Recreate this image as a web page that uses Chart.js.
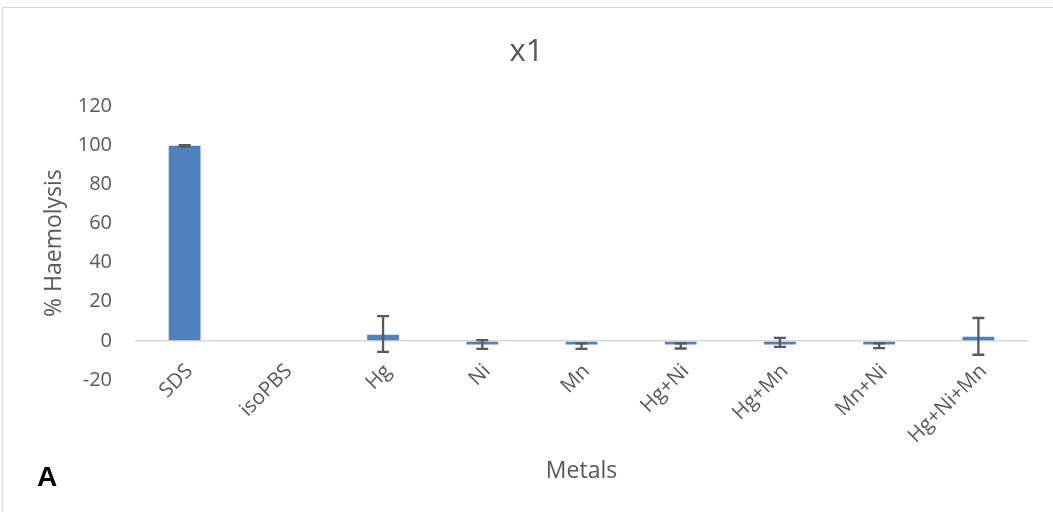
<!DOCTYPE html>
<html>
<head>
<meta charset="utf-8">
<script src="https://cdn.jsdelivr.net/npm/chart.js@4.4.0/dist/chart.umd.min.js"></script>
<style>
    html, body { margin: 0; padding: 0; background: #fff; }
    #wrap { position: relative; width: 1053px; height: 512px; overflow: hidden; }
    #frame { position: absolute; left: 2px; top: 7px; width: 1100px; height: 600px; border: 1px solid #d9d9d9; box-sizing: border-box; }
    #panel { position: absolute; left: 37px; top: 463px; font: bold 28px "Liberation Sans", Arial, sans-serif; line-height: 28px; color: #000; }
    canvas { position: absolute; left: 0; top: 0; }
</style>
</head>
<body>
<div id="wrap">
    <div id="frame"></div>
    <canvas id="haemoChart" width="1053" height="512"></canvas>
    <div id="panel">A</div>
</div>
<script>
// --- chart data ---
const metals = ['SDS', 'isoPBS', 'Hg', 'Ni', 'Mn', 'Hg+Ni', 'Hg+Mn', 'Mn+Ni', 'Hg+Ni+Mn'];
const haemolysis = [99.8, 0, 3.1, -1.8, -1.8, -1.8, -1.8, -1.8, 2.1];
const errUp = [0.3, 0, 9.6, 2.2, 0.5, 0.5, 3.3, 0.5, 9.6];
const errDown = [0.3, 0, 8.7, 2.3, 2.3, 2.1, 1.3, 1.9, 9.2];
const yTicks = [-20, 0, 20, 40, 60, 80, 100, 120];

const textGrey = '#595959';
const fontFamily = '"Open Sans", "Liberation Sans", sans-serif';

// simple error bar drawer on top of the bars
const errorBars = {
    id: 'errorBars',
    afterDatasetsDraw(chart) {
        const ctx = chart.ctx;
        const y = chart.scales.y;
        const meta = chart.getDatasetMeta(0);
        ctx.save();
        ctx.strokeStyle = '#595959';
        ctx.lineWidth = 2.3;
        meta.data.forEach((bar, i) => {
            if (!errUp[i] && !errDown[i]) return;
            const v = haemolysis[i];
            const top = y.getPixelForValue(v + errUp[i]);
            const bottom = y.getPixelForValue(v - errDown[i]);
            const x = bar.x;
            const cap = 6;
            ctx.beginPath();
            ctx.moveTo(x, top); ctx.lineTo(x, bottom);
            ctx.moveTo(x - cap, top); ctx.lineTo(x + cap, top);
            ctx.moveTo(x - cap, bottom); ctx.lineTo(x + cap, bottom);
            ctx.stroke();
        });
        ctx.restore();
    }
};

// category labels hang just under the zero line (like Excel), so draw them here
// instead of the x scale, which would clip them to its own box
const categoryLabels = {
    id: 'categoryLabels',
    afterDraw(chart) {
        const ctx = chart.ctx;
        const xs = chart.scales.x;
        const baseY = chart.scales.y.getPixelForValue(0) + 27;
        ctx.save();
        ctx.font = '20.5px ' + fontFamily;
        ctx.fillStyle = textGrey;
        ctx.textAlign = 'right';
        ctx.textBaseline = 'middle';
        metals.forEach((name, i) => {
            ctx.save();
            ctx.translate(xs.getPixelForTick(i) + 5, baseY);
            ctx.rotate(-Math.PI / 4);
            ctx.fillText(name, 0, 0);
            ctx.restore();
        });
        ctx.restore();
    }
};

new Chart(document.getElementById('haemoChart'), {
    type: 'bar',
    data: {
        labels: metals,
        datasets: [{
            label: 'x1',
            data: haemolysis,
            backgroundColor: '#4f81bd',
            borderWidth: 0,
            barPercentage: 0.32,
            categoryPercentage: 1
        }]
    },
    options: {
        responsive: false,
        animation: false,
        layout: { padding: 0 },
        plugins: {
            legend: { display: false },
            tooltip: { enabled: false },
            title: {
                display: true,
                text: 'x1',
                color: textGrey,
                font: { family: fontFamily, size: 31, weight: 'normal' },
                padding: { top: 34, bottom: 35 }
            }
        },
        scales: {
            x: {
                grid: { display: false, drawTicks: false },
                border: { display: false },
                ticks: { display: false },
                title: {
                    display: true,
                    text: 'Metals',
                    color: textGrey,
                    font: { family: fontFamily, size: 23 },
                    padding: { top: 27, bottom: 27 }
                },
                afterFit(scale) { scale.height = 132; }
            },
            y: {
                min: -20,
                max: 120,
                afterBuildTicks(scale) { scale.ticks = yTicks.map(v => ({ value: v })); },
                grid: {
                    drawTicks: false,
                    lineWidth: 1.5,
                    color: c => (c.tick && c.tick.value === 0) ? '#d9d9d9' : 'transparent'
                },
                border: { display: false },
                ticks: {
                    color: textGrey,
                    font: { family: fontFamily, size: 20 },
                    padding: 23
                },
                title: {
                    display: true,
                    text: '% Haemolysis',
                    color: textGrey,
                    font: { family: fontFamily, size: 23 },
                    padding: { top: 41, bottom: 0 }
                },
                afterFit(scale) { scale.width = 135; }
            },
            // empty spacer on the right so the plot ends where the reference does
            spacer: {
                position: 'right',
                display: true,
                grid: { display: false, drawTicks: false },
                border: { display: false },
                ticks: { display: false },
                afterFit(scale) { scale.width = 25; }
            }
        }
    },
    plugins: [errorBars, categoryLabels]
});
</script>
</body>
</html>
